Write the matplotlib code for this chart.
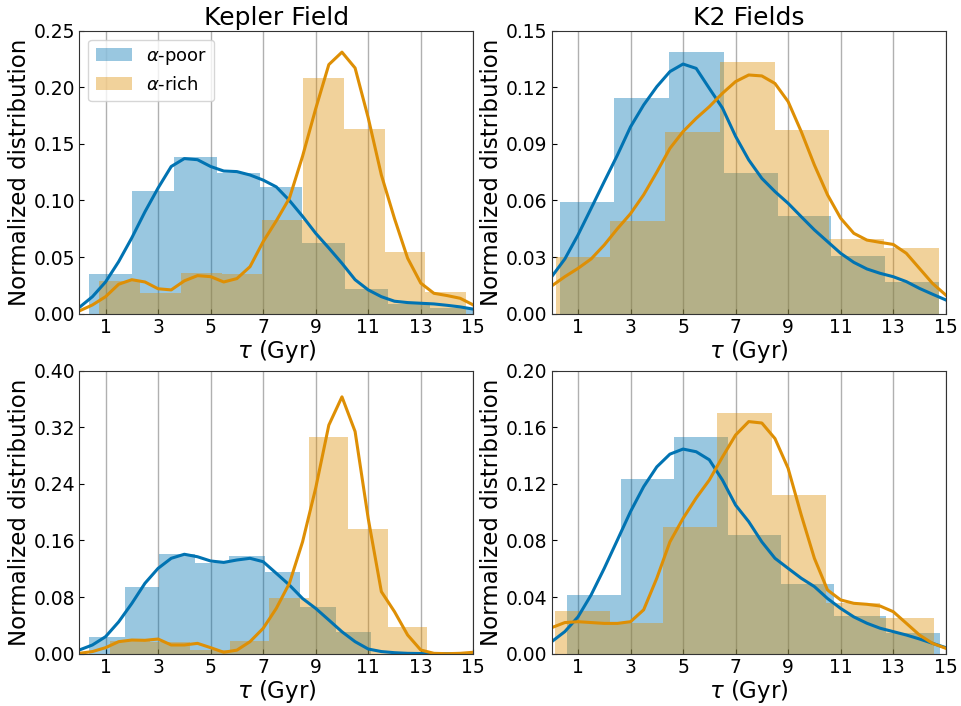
import numpy as np
import matplotlib
matplotlib.use("Agg")
from matplotlib import pyplot as plt

blue = '#0173B2'
orange = '#DE8F05'

# kde sample ages (Gyr)
t_kde = np.arange(0, 15.01, 0.5)

# ---- Kepler, top row
kep1_poor_edges = [0.38, 2.02, 3.62, 5.24, 6.88, 8.48, 10.11, 11.74, 13.37, 15.0]
kep1_poor_h = [0.035, 0.108, 0.138, 0.124, 0.112, 0.062, 0.022, 0.0085, 0.005]
kep1_rich_edges = [0.75, 2.31, 3.87, 5.42, 6.97, 8.50, 10.06, 11.64, 13.16, 14.72]
kep1_rich_h = [0.029, 0.018, 0.036, 0.035, 0.083, 0.208, 0.163, 0.0545, 0.019]
kep1_poor_kde = [0.0055, 0.015, 0.028, 0.046, 0.067, 0.090, 0.111, 0.130, 0.137, 0.136,
                 0.130, 0.126, 0.1255, 0.1225, 0.118, 0.112, 0.100, 0.086, 0.071, 0.058,
                 0.0445, 0.030, 0.021, 0.015, 0.011, 0.0098, 0.0092, 0.0086, 0.0074, 0.006, 0.004]
kep1_rich_kde = [0.0024, 0.0077, 0.015, 0.026, 0.030, 0.028, 0.022, 0.021, 0.029, 0.0336,
                 0.0327, 0.028, 0.031, 0.0415, 0.0636, 0.082, 0.102, 0.139, 0.181, 0.220,
                 0.231, 0.217, 0.173, 0.1225, 0.084, 0.049, 0.027, 0.018, 0.016, 0.0136, 0.0077]

# ---- K2, top row
k2a_poor_edges = [0.317, 2.384, 4.463, 6.543, 8.596, 10.65, 12.70, 14.75]
k2a_poor_h = [0.0592, 0.1143, 0.1385, 0.0746, 0.0518, 0.0306, 0.0168]
k2a_rich_edges = [0.165, 2.22, 4.31, 6.40, 8.49, 10.55, 12.64, 14.73]
k2a_rich_h = [0.030, 0.0493, 0.0963, 0.1334, 0.0973, 0.0396, 0.0348]
k2a_poor_kde = [0.0196, 0.029, 0.0417, 0.0558, 0.070, 0.084, 0.099, 0.1106, 0.1203, 0.1283,
                0.1323, 0.130, 0.1194, 0.109, 0.094, 0.0815, 0.0717, 0.0647, 0.0585, 0.0514,
                0.0444, 0.0382, 0.032, 0.0272, 0.0237, 0.0214, 0.0196, 0.017, 0.0134, 0.0103, 0.0073]
k2a_rich_kde = [0.0147, 0.0196, 0.024, 0.029, 0.0364, 0.045, 0.053, 0.063, 0.075, 0.0876,
                0.0965, 0.1035, 0.1097, 0.1168, 0.123, 0.1265, 0.126, 0.122, 0.1124, 0.0965,
                0.0788, 0.063, 0.0506, 0.0426, 0.039, 0.0378, 0.0367, 0.032, 0.024, 0.016, 0.0099]

# ---- Kepler, bottom row
kep2_poor_edges = [0.38, 1.73, 3.05, 4.39, 5.71, 7.07, 8.41, 9.76, 11.10]
kep2_poor_h = [0.0236, 0.094, 0.141, 0.128, 0.138, 0.115, 0.066, 0.031]
kep2_rich_edges = [1.17, 2.69, 4.21, 5.72, 7.23, 8.74, 10.24, 11.75, 13.25]
kep2_rich_h = [0.018, 0.0165, 0.005, 0.018, 0.079, 0.306, 0.176, 0.038]
kep2_poor_kde = [0.0052, 0.0123, 0.024, 0.045, 0.071, 0.0995, 0.1206, 0.1348, 0.1405, 0.137,
                 0.131, 0.129, 0.1324, 0.1348, 0.130, 0.1136, 0.097, 0.078, 0.064, 0.0476,
                 0.031, 0.017, 0.0066, 0.003, 0.0014, 0.0005, 0.0002, 0.0, 0.0, 0.0, 0.0]
kep2_rich_kde = [0.0005, 0.003, 0.0085, 0.017, 0.0193, 0.0189, 0.0207, 0.0123, 0.0123, 0.0146,
                 0.0085, 0.002, 0.005, 0.017, 0.0358, 0.064, 0.0995, 0.158, 0.234, 0.323,
                 0.363, 0.314, 0.191, 0.0877, 0.0594, 0.0264, 0.0052, 0.0005, 0.0, 0.0005, 0.002]

# ---- K2, bottom row
k2b_poor_edges = [0.596, 2.62, 4.66, 6.70, 8.72, 10.74, 12.74, 14.77]
k2b_poor_h = [0.0412, 0.1234, 0.1529, 0.0836, 0.0492, 0.0266, 0.0147]
k2b_rich_edges = [0.127, 2.22, 4.25, 6.30, 8.37, 10.43, 12.49, 14.54]
k2b_rich_h = [0.0302, 0.0217, 0.0895, 0.170, 0.1121, 0.0355, 0.0254]
k2b_poor_kde = [0.0085, 0.0156, 0.026, 0.0415, 0.0603, 0.0803, 0.1004, 0.118, 0.132, 0.141,
                0.1446, 0.1427, 0.137, 0.1227, 0.105, 0.0933, 0.079, 0.0674, 0.0603, 0.0533,
                0.0474, 0.039, 0.032, 0.026, 0.0215, 0.018, 0.0156, 0.0132, 0.0104, 0.0073, 0.0043]
k2b_rich_kde = [0.0184, 0.022, 0.0226, 0.022, 0.0214, 0.0214, 0.0226, 0.031, 0.0533, 0.079,
                0.0956, 0.11, 0.1227, 0.139, 0.1545, 0.164, 0.163, 0.152, 0.131, 0.098,
                0.0674, 0.045, 0.038, 0.0356, 0.0349, 0.0337, 0.0297, 0.0215, 0.0132, 0.0073, 0.0038]

panels = [
    ([0.0825, 0.5557, 0.41, 0.4009], kep1_poor_edges, kep1_poor_h, kep1_rich_edges, kep1_rich_h,
     kep1_poor_kde, kep1_rich_kde, 0.25, 0.05, 'Kepler Field'),
    ([0.5741, 0.5557, 0.41, 0.4009], k2a_poor_edges, k2a_poor_h, k2a_rich_edges, k2a_rich_h,
     k2a_poor_kde, k2a_rich_kde, 0.15, 0.03, 'K2 Fields'),
    ([0.0825, 0.0741, 0.41, 0.4009], kep2_poor_edges, kep2_poor_h, kep2_rich_edges, kep2_rich_h,
     kep2_poor_kde, kep2_rich_kde, 0.40, 0.08, None),
    ([0.5741, 0.0741, 0.41, 0.4009], k2b_poor_edges, k2b_poor_h, k2b_rich_edges, k2b_rich_h,
     k2b_poor_kde, k2b_rich_kde, 0.20, 0.04, None),
]

fig = plt.figure(figsize=(9.61, 7.06), dpi=100)

for i, (pos, pe, ph, re, rh, pk, rk, ymax, ystep, title) in enumerate(panels):
    ax = fig.add_axes(pos)
    pe = np.array(pe)
    re = np.array(re)
    ax.bar(pe[:-1], ph, width=np.diff(pe), align='edge', color=blue, alpha=0.4,
           linewidth=0, label=r'$\alpha$-poor')
    ax.bar(re[:-1], rh, width=np.diff(re), align='edge', color=orange, alpha=0.4,
           linewidth=0, label=r'$\alpha$-rich')
    ax.plot(t_kde, pk, color=blue, lw=2.2, solid_joinstyle='round')
    ax.plot(t_kde, rk, color=orange, lw=2.2, solid_joinstyle='round')

    ax.set_xlim(0, 15)
    ax.set_ylim(0, ymax)
    ax.set_xticks(np.arange(1, 16, 2))
    ax.set_yticks(np.arange(0, ymax + ystep / 2, ystep))
    ax.yaxis.set_major_formatter(matplotlib.ticker.FormatStrFormatter('%.2f'))
    ax.tick_params(direction='in', labelsize=13.5, pad=3)
    ax.grid(True, axis='x', color='#b0b0b0', lw=1)
    ax.set_axisbelow(True)
    ax.set_xlabel(r'$\tau$ (Gyr)', fontsize=16.5, labelpad=1)
    ax.set_ylabel('Normalized distribution', fontsize=16.5, labelpad=2)
    for s in ax.spines.values():
        s.set_color('#333333')
    if title:
        ax.set_title(title, fontsize=18, pad=4)
    if i == 0:
        ax.legend(loc='upper left', fontsize=13)

fig.savefig('out.png', dpi=100)
